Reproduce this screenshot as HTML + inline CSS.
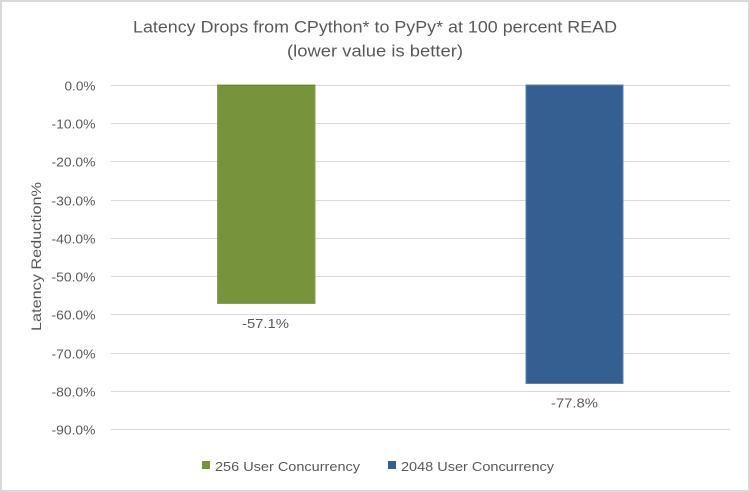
<!DOCTYPE html>
<html>
<head>
<meta charset="utf-8">
<style>
  html, body { margin: 0; padding: 0; background: #ffffff; }
  svg { display: block; }
  text { font-family: "Liberation Sans", sans-serif; fill: #595959; }
</style>
</head>
<body>
<svg width="750" height="492" viewBox="0 0 750 492" xmlns="http://www.w3.org/2000/svg">
  <rect x="0" y="0" width="750" height="492" fill="#ffffff"/>
  <rect x="1" y="1" width="748" height="490" fill="none" stroke="#d9d9d9" stroke-width="2"/>

  <!-- Title -->
  <text x="375" y="32.5" font-size="16.5" text-anchor="middle" textLength="484" lengthAdjust="spacingAndGlyphs">Latency Drops from CPython* to PyPy* at 100 percent READ</text>
  <text x="375" y="56.5" font-size="16.5" text-anchor="middle" textLength="176" lengthAdjust="spacingAndGlyphs">(lower value is better)</text>

  <!-- Gridlines -->
  <g stroke="#d9d9d9" stroke-width="1">
    <line x1="111" y1="85.5" x2="730" y2="85.5"/>
    <line x1="111" y1="123.5" x2="730" y2="123.5"/>
    <line x1="111" y1="161.5" x2="730" y2="161.5"/>
    <line x1="111" y1="200.5" x2="730" y2="200.5"/>
    <line x1="111" y1="238.5" x2="730" y2="238.5"/>
    <line x1="111" y1="276.5" x2="730" y2="276.5"/>
    <line x1="111" y1="314.5" x2="730" y2="314.5"/>
    <line x1="111" y1="353.5" x2="730" y2="353.5"/>
    <line x1="111" y1="391.5" x2="730" y2="391.5"/>
    <line x1="111" y1="429.5" x2="730" y2="429.5"/>
  </g>

  <!-- Y tick labels -->
  <g font-size="13">
    <text x="64.5" y="90.5" textLength="31" lengthAdjust="spacingAndGlyphs">0.0%</text>
    <text x="51.5" y="128.5" textLength="44" lengthAdjust="spacingAndGlyphs">-10.0%</text>
    <text x="51.5" y="166.5" textLength="44" lengthAdjust="spacingAndGlyphs">-20.0%</text>
    <text x="51.5" y="205.5" textLength="44" lengthAdjust="spacingAndGlyphs">-30.0%</text>
    <text x="51.5" y="243.5" textLength="44" lengthAdjust="spacingAndGlyphs">-40.0%</text>
    <text x="51.5" y="281.5" textLength="44" lengthAdjust="spacingAndGlyphs">-50.0%</text>
    <text x="51.5" y="319.5" textLength="44" lengthAdjust="spacingAndGlyphs">-60.0%</text>
    <text x="51.5" y="358.5" textLength="44" lengthAdjust="spacingAndGlyphs">-70.0%</text>
    <text x="51.5" y="396.5" textLength="44" lengthAdjust="spacingAndGlyphs">-80.0%</text>
    <text x="51.5" y="434.5" textLength="44" lengthAdjust="spacingAndGlyphs">-90.0%</text>
  </g>

  <!-- Y axis title -->
  <text transform="translate(41,256.5) rotate(-90)" font-size="14" text-anchor="middle" textLength="149" lengthAdjust="spacingAndGlyphs">Latency Reduction%</text>

  <!-- Bars -->
  <rect x="217.5" y="85" width="97.5" height="218.5" fill="#77933c" stroke="#86a34a" stroke-width="1"/>
  <line x1="217.5" y1="85.5" x2="315" y2="85.5" stroke="#6a8534" stroke-width="1"/>
  <rect x="526" y="85" width="97" height="298.5" fill="#365f91" stroke="#5a80b4" stroke-width="1"/>

  <!-- Data labels -->
  <text x="265.5" y="328" font-size="13" text-anchor="middle" textLength="47" lengthAdjust="spacingAndGlyphs">-57.1%</text>
  <text x="574.5" y="407.5" font-size="13" text-anchor="middle" textLength="47" lengthAdjust="spacingAndGlyphs">-77.8%</text>

  <!-- Legend -->
  <rect x="202" y="461" width="8" height="8" fill="#77933c"/>
  <text x="215" y="471" font-size="13" textLength="145" lengthAdjust="spacingAndGlyphs">256 User Concurrency</text>
  <rect x="388" y="461" width="8" height="8" fill="#365f91"/>
  <text x="401" y="471" font-size="13" textLength="153" lengthAdjust="spacingAndGlyphs">2048 User Concurrency</text>
</svg>
</body>
</html>
